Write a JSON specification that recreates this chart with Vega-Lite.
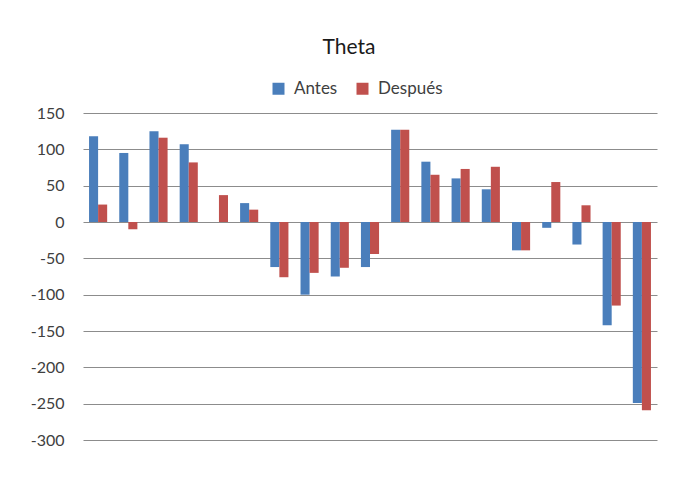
{
  "$schema": "https://vega.github.io/schema/vega-lite/v6.json",
  "width": 574,
  "height": 327,
  "autosize": "none",
  "padding": {"left": 83, "top": 113, "right": 26, "bottom": 40},
  "background": "white",
  "title": {"text": "Theta", "fontSize": 21, "font": "Lato", "fontWeight": "normal", "color": "#1a1a1a", "anchor": "middle", "dx": -21, "offset": 22},
  "data": {"values": [
    {"c": 1, "s": "Antes", "v": 118}, {"c": 1, "s": "Después", "v": 24},
    {"c": 2, "s": "Antes", "v": 95}, {"c": 2, "s": "Después", "v": -10},
    {"c": 3, "s": "Antes", "v": 125}, {"c": 3, "s": "Después", "v": 116},
    {"c": 4, "s": "Antes", "v": 107}, {"c": 4, "s": "Después", "v": 82},
    {"c": 5, "s": "Antes", "v": 0}, {"c": 5, "s": "Después", "v": 37},
    {"c": 6, "s": "Antes", "v": 26}, {"c": 6, "s": "Después", "v": 17},
    {"c": 7, "s": "Antes", "v": -62}, {"c": 7, "s": "Después", "v": -76},
    {"c": 8, "s": "Antes", "v": -100}, {"c": 8, "s": "Después", "v": -70},
    {"c": 9, "s": "Antes", "v": -75}, {"c": 9, "s": "Después", "v": -63},
    {"c": 10, "s": "Antes", "v": -62}, {"c": 10, "s": "Después", "v": -44},
    {"c": 11, "s": "Antes", "v": 127}, {"c": 11, "s": "Después", "v": 127},
    {"c": 12, "s": "Antes", "v": 83}, {"c": 12, "s": "Después", "v": 65},
    {"c": 13, "s": "Antes", "v": 60}, {"c": 13, "s": "Después", "v": 73},
    {"c": 14, "s": "Antes", "v": 45}, {"c": 14, "s": "Después", "v": 76},
    {"c": 15, "s": "Antes", "v": -39}, {"c": 15, "s": "Después", "v": -39},
    {"c": 16, "s": "Antes", "v": -8}, {"c": 16, "s": "Después", "v": 55},
    {"c": 17, "s": "Antes", "v": -31}, {"c": 17, "s": "Después", "v": 23},
    {"c": 18, "s": "Antes", "v": -142}, {"c": 18, "s": "Después", "v": -115},
    {"c": 19, "s": "Antes", "v": -249}, {"c": 19, "s": "Después", "v": -259}
  ]},
  "mark": {"type": "bar"},
  "encoding": {
    "x": {"field": "c", "type": "ordinal", "scale": {"paddingInner": 0.4, "paddingOuter": 0.2}, "axis": null},
    "xOffset": {"field": "s", "type": "nominal", "sort": ["Antes", "Después"]},
    "y": {"field": "v", "type": "quantitative", "scale": {"domain": [-300, 150], "nice": false},
      "axis": {"title": null, "values": [-300, -250, -200, -150, -100, -50, 0, 50, 100, 150], "labelExpr": "'' + datum.value",
        "domain": false, "ticks": false, "labelPadding": 19, "labelFont": "Lato", "labelFontSize": 16, "labelColor": "#404040",
        "gridColor": "#8c8c8c", "gridWidth": 1.2, "gridOpacity": 1}},
    "color": {"field": "s", "type": "nominal", "sort": ["Antes", "Después"],
      "scale": {"domain": ["Antes", "Después"], "range": ["#4a7ebb", "#c0504d"]},
      "legend": {"title": null, "orient": "none", "direction": "horizontal", "legendX": 187, "legendY": -33,
        "symbolType": "square", "symbolSize": 144, "symbolStrokeWidth": 0, "labelFont": "Lato", "labelFontSize": 17, "labelColor": "#404040", "columnPadding": 16, "labelOffset": 7}}
  },
  "config": {"view": {"stroke": null}}
}
